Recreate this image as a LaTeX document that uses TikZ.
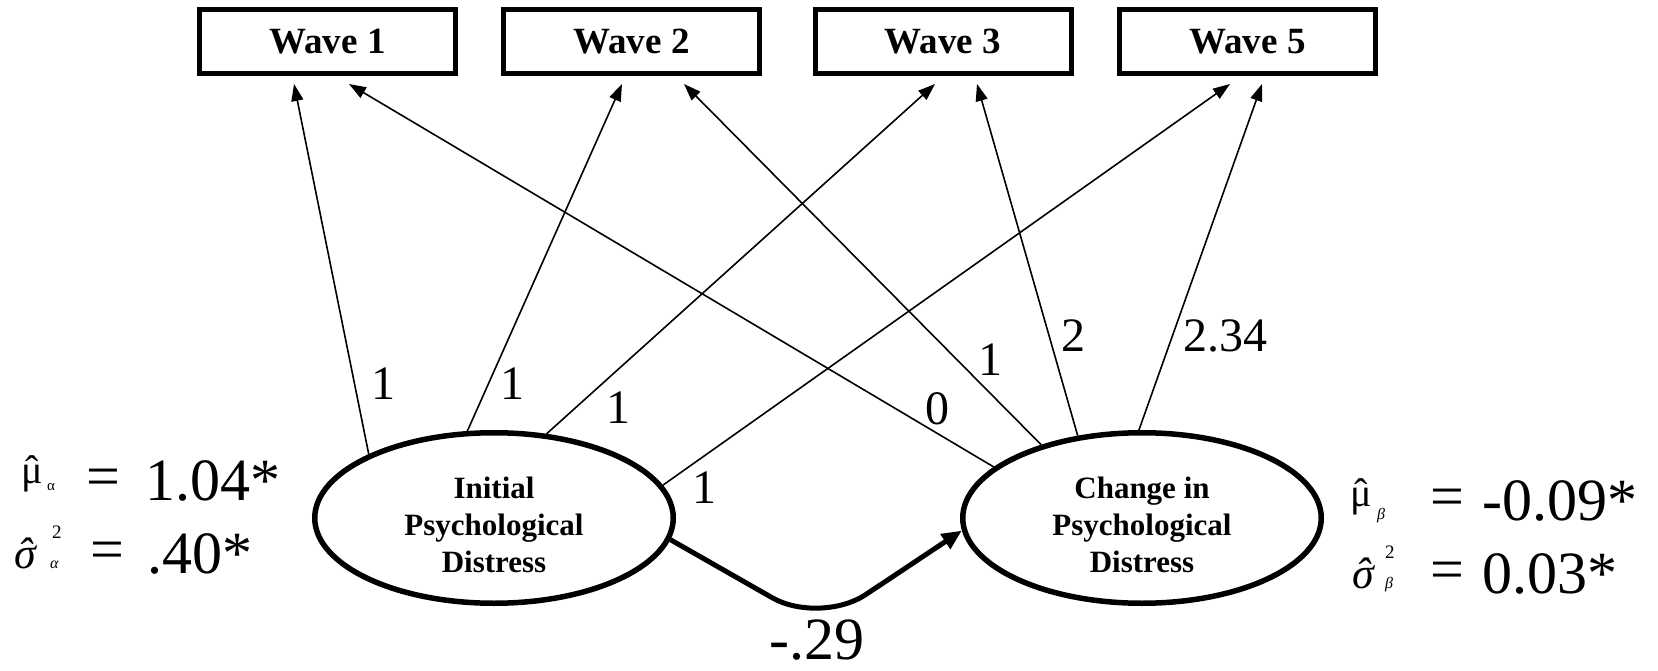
\documentclass[tikz,border=0pt]{standalone}
\usepackage{fontspec}
\setmainfont{Liberation Serif}
\usetikzlibrary{arrows.meta,calc,shapes.geometric}
\newcommand\hatchar[1]{\ooalign{#1\cr\hidewidth ˆ\hidewidth\cr}}
\begin{document}
\begin{tikzpicture}[x=1pt,y=-1pt,
  wave/.style={draw, line width=5pt, minimum width=256pt, minimum height=64pt, inner sep=0pt, font=\fontsize{37}{44}\selectfont\bfseries},
  latent/.style={draw, ellipse, line width=5.5pt, minimum width=358.5pt, minimum height=170.5pt, inner sep=0pt, align=center, font=\fontsize{31}{37}\selectfont\bfseries},
  loading/.style={line width=1.6pt, -{Triangle[length=17pt,width=12pt]}},
  lab/.style={inner sep=0pt, font=\fontsize{48}{56}\selectfont},
  stat/.style={inner sep=0pt, anchor=base west, font=\fontsize{60}{70}\selectfont},
  eqs/.style={inner sep=0pt, anchor=base west, font=\fontsize{60}{70}\selectfont},
  greek/.style={inner sep=0pt, anchor=base west, font=\fontsize{40}{48}\selectfont},
  greekit/.style={inner sep=0pt, anchor=base west, font=\fontsize{44}{50}\selectfont\itshape},
  subs/.style={inner sep=0pt, anchor=base west, font=\fontsize{15}{18}\selectfont},
  subsit/.style={inner sep=0pt, anchor=base west, font=\fontsize{16}{18}\selectfont\itshape},
  sups/.style={inner sep=0pt, anchor=base west, font=\fontsize{19}{22}\selectfont}
]
\useasboundingbox (0,0) rectangle (1658,671);

% observed waves
\node[wave] (W1) at (327.5,41.5) {Wave 1};
\node[wave] (W2) at (631.5,41.5) {Wave 2};
\node[wave] (W3) at (943,41.5) {Wave 3};
\node[wave] (W5) at (1247.5,41.5) {Wave 5};

% latent factors
\node[latent] (L) at (494,518) {Initial\rule{0pt}{35pt}\\Psychological\\Distress};
\node[latent] (R) at (1142,518) {Change in\rule{0pt}{35pt}\\Psychological\\Distress};

% loadings
\draw[loading] (L.153) -- ($(W1.south)+(-33.5,8)$);
\draw[loading] (L.107) -- ($(W2.south)+(-9.5,8)$);
\draw[loading] (L.58.5) -- ($(W3.south)+(-8,8)$);
\draw[loading] (L.11.8) -- ($(W5.south)+(-17.5,8)$);
\draw[loading] (R.161.9) -- ($(W1.south)+(21.5,8)$);
\draw[loading] (R.144.9) -- ($(W2.south)+(52.5,8)$);
\draw[loading] (R.128.7) -- ($(W3.south)+(34,8)$);
\draw[loading] (R.92) -- ($(W5.south)+(14.5,8)$);

% loading labels
\node[lab] (l1) at (383,384) {1};
\node[lab] (l2) at (512,384) {1};
\node[lab] (l3) at (618,408) {1};
\node[lab] (l4) at (704,488) {1};
\node[lab] (l5) at (937,409) {0};
\node[lab] (l6) at (990,360) {1};
\node[lab] (l7) at (1073,336) {2};
\node[lab] (l8) at (1225,336) {2.34};

% regression path
\coordinate (bend) at (820,625);
\draw[line width=5pt, rounded corners=55pt, -{Triangle[length=20pt,width=17pt]}] (L.-7) -- (bend) -- (R.184);
\node[inner sep=0pt, font=\fontsize{60}{70}\selectfont] (reg) at (817,640) {-.29};

% left statistics
\node[greek] (mua) at (21,483) {\hatchar{μ}};
\node[subs] (mualpha) at (47,490) {α};
\node[eqs] (eq1) at (86,496) {=};
\node[stat] (v1) at (145,500) {1.04*};
\node[greekit] (sga) at (14,568) {\hatchar{σ}};
\node[sups] (sq1) at (52,538) {2};
\node[subsit] (sgalpha) at (50,568) {α};
\node[eqs] (eq2) at (90,569) {=};
\node[stat] (v2) at (147,573) {.40*};

% right statistics
\node[greek] (mub) at (1350,506) {\hatchar{μ}};
\node[subsit] (mubeta) at (1377,519) {β};
\node[eqs] (eq3) at (1430,516) {=};
\node[stat] (v3) at (1482,520) {-0.09*};
\node[greekit] (sgb) at (1352,588) {\hatchar{σ}};
\node[sups] (sq2) at (1385,558) {2};
\node[subsit] (sgbeta) at (1385,588) {β};
\node[eqs] (eq4) at (1430,589) {=};
\node[stat] (v4) at (1482,593) {0.03*};
\end{tikzpicture}
\end{document}
